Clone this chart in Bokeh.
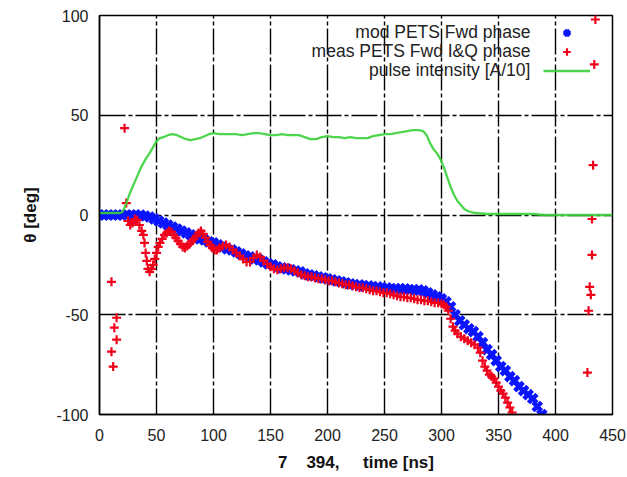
from bokeh.plotting import figure
from bokeh.models import Legend, LegendItem, Label, FixedTicker
from bokeh.core.properties import value
from bokeh.embed import file_html
from bokeh.resources import INLINE

# ---------------- data ----------------
x_ticks = [0, 50, 100, 150, 200, 250, 300, 350, 400, 450]
y_ticks = [-100, -50, 0, 50, 100]

# model: PETS forward phase [deg]
mod_t = [0, 4, 8, 12, 16, 20, 24, 28, 32, 36, 40, 44, 48, 52, 56, 60, 64, 68, 72, 76,
         80, 84, 88, 92, 96, 100, 104, 108, 112, 116, 120, 124, 128, 132, 136, 140, 144, 148, 152, 156,
         160, 164, 168, 172, 176, 180, 184, 188, 192, 196, 200, 204, 208, 212, 216, 220, 224, 228, 232, 236,
         240, 244, 248, 252, 256, 260, 264, 268, 272, 276, 280, 284, 288, 292, 296, 300, 304, 308, 312, 316,
         320, 324, 328, 332, 336, 340, 344, 348, 352, 356, 360, 364, 368, 372, 376, 380, 384, 388]
mod_phase = [0, 0, 0, 0, 0, 0, 0, 0, 0, 0, -0.5, -1, -2, -3, -4, -5, -6, -7, -8, -9,
             -10, -11, -12, -12.5, -13.5, -14, -15, -16, -17, -17.5, -18.5, -19.5, -20.5, -21, -22, -22.5, -23.5, -24.5, -25, -26,
             -26.5, -27, -27.5, -28, -28.5, -29.5, -30, -30.5, -31, -31.5, -32, -32.5, -33, -33.5, -34, -34.5, -35, -35, -35.5, -35.5,
             -36, -36, -36.5, -36.5, -37, -37, -37, -37, -37.5, -37.5, -37.5, -38, -39, -40, -41, -42, -43.5, -46, -50, -53,
             -55, -57, -58.5, -61, -64, -67.5, -70, -73, -76, -78, -81, -83, -86, -88, -90, -92, -96, -100]

# measurement: PETS forward I&Q phase [deg]
meas_t = [10.5, 15, 13, 15, 10.5, 12, 22, 23.5,
          25, 27, 29, 31, 33, 35, 37, 38.5, 39.5, 40.5, 41.5, 42.5, 44, 45.5, 47, 48.5, 50, 51.5, 53, 55, 57, 59,
          61, 63, 65, 67, 69, 71, 73, 75, 77, 79, 81, 83, 85, 87, 89, 91, 93, 95, 97, 99,
          101, 103, 105, 108, 111, 114, 117, 120, 123, 126, 129, 132, 135, 138, 141, 144, 147, 150, 153, 156,
          159, 162, 165, 168, 171, 174, 177, 180, 183, 186, 189, 192, 195, 198, 201, 204, 207, 210, 213, 216,
          219, 222, 225, 228, 231, 234, 237, 240, 243, 246, 249, 252, 255, 258, 261, 264, 267, 270, 273, 276,
          279, 282, 285, 288, 291, 294, 297, 300, 302, 304, 306, 308, 310, 312, 314, 317, 320, 323, 326, 329,
          332, 334, 336, 338, 340, 342, 344, 346, 348, 350, 352, 354, 356, 358, 360, 362,
          435, 434, 433, 432, 432, 430, 431, 429, 428]
meas_phase = [-33.5, -51.5, -56.5, -62.5, -68.5, -76, 43.5, 6,
              -3, -5, -4, -2, -2.5, -5, -8, -10, -14, -19, -23, -27, -28.5, -27, -25, -22, -19, -16, -14, -12, -10, -9,
              -8, -8.5, -10, -11.5, -13, -14.5, -16, -16.5, -15.5, -14.5, -13, -12, -10.5, -9, -8, -9.5, -11.5, -13.5, -15, -16.5,
              -17.5, -17.5, -16.5, -15.5, -15, -16, -17.5, -19, -20.5, -22, -23.5, -23.5, -21.5, -20, -21, -23, -24.5, -26, -27, -27.5,
              -27, -26.5, -26.5, -27, -28, -29, -30, -30.5, -31, -31, -31.5, -32, -32, -32.5, -33, -33, -33.5, -34, -34.5, -35,
              -35, -35.5, -36, -36.5, -36.5, -37, -37.5, -38, -38, -38.5, -39, -39, -39.5, -40, -40.5, -41, -41, -41.5, -41.5, -42,
              -42.5, -42.5, -43, -43, -43.5, -44, -44, -44.5, -45, -46, -48, -52, -56, -58, -59.5, -61, -62, -63, -64, -65,
              -66.5, -69, -73, -76, -78, -80, -81, -82, -84, -86, -88, -89.5, -91.5, -94, -96.5, -99,
              98, 75.5, 25, -2, -20, -36, -40, -48, -79]

# pulse intensity [A/10]
pulse_t = [0, 5, 10, 15, 18, 20, 23, 26, 29, 32, 35, 38, 41, 44, 47, 50, 53, 56, 60, 64,
           68, 72, 76, 80, 84, 88, 92, 96, 100, 105, 110, 115, 120, 125, 130, 135, 140, 145, 150, 155,
           160, 165, 170, 175, 180, 185, 190, 195, 200, 205, 210, 215, 220, 225, 230, 235, 240, 245, 250, 255,
           260, 265, 270, 275, 280, 284, 287, 290, 293, 296, 299, 302, 305, 308, 311, 314, 317, 320, 323, 326,
           330, 340, 350, 360, 370, 380, 390, 400, 410, 420, 430, 440, 450]
pulse_int = [1, 1, 1, 1, 1, 1.5, 5, 10, 14, 18, 22, 25.5, 28.5, 31, 34, 37, 38.5, 39, 40, 40.5,
             40, 39, 38, 37.5, 38, 38.5, 39.5, 40.5, 41, 40.5, 40.5, 40.5, 40.5, 40, 40.5, 41, 41, 40.5, 40, 40,
             40.5, 40, 40, 40, 39, 38, 38, 39, 39.5, 39, 39, 38.5, 39, 38.5, 38.5, 38.5, 39.5, 40, 40.5, 40.5,
             41, 41.5, 42, 42.5, 42.5, 42, 40, 36, 33, 31, 28, 24, 19, 14, 10, 7, 5, 3, 2, 1.5,
             1, 0.5, 0.5, 0.5, 0.5, 0.5, 0, 0, 0, 0, 0, 0, 0]

series_labels = ["mod PETS Fwd phase", "meas PETS Fwd I&Q phase", "pulse intensity [A/10]"]
x_label = "7\u00a0\u00a0\u00a0\u00a0394,\u00a0\u00a0\u00a0\u00a0\u00a0time [ns]"
y_label = "\u03b8 [deg]"

FONT = "Liberation Sans"
BLUE = "#0a14ff"
RED = "#f0001a"
GREEN = "#3ad23a"

p = figure(width=627, height=477, output_backend="svg", toolbar_location=None,
           x_range=(0, 450), y_range=(-100, 100),
           min_border_left=99, min_border_right=15, min_border_top=15, min_border_bottom=63)
p.background_fill_color = "white"
p.border_fill_color = "white"
p.outline_line_color = "black"
p.outline_line_width = 1.5

p.xaxis.ticker = FixedTicker(ticks=x_ticks)
p.yaxis.ticker = FixedTicker(ticks=y_ticks)
p.yaxis.major_label_overrides = {t: str(t) for t in y_ticks}
p.xaxis.axis_label = x_label
p.yaxis.axis_label = y_label
for ax in (p.xaxis[0], p.yaxis[0]):
    ax.major_label_text_font = FONT
    ax.major_label_text_font_size = "16px"
    ax.major_label_text_color = "#222222"
    ax.axis_label_text_font = FONT
    ax.axis_label_text_font_size = "17px"
    ax.axis_label_text_font_style = "bold"
    ax.axis_label_text_color = "#111111"
    ax.major_tick_in = 0
    ax.major_tick_out = 0
    ax.minor_tick_in = 0
    ax.minor_tick_out = 0
    ax.axis_line_color = "black"
    ax.axis_line_width = 1.5
p.xaxis.major_label_standoff = 14
p.xaxis.axis_label_standoff = 9
p.yaxis.major_label_standoff = 11
p.yaxis.axis_label_standoff = 13

p.grid.grid_line_color = "black"
p.grid.grid_line_width = 1.4
p.grid.grid_line_dash = "26 3 4 3"

rb = p.scatter(mod_t, mod_phase, marker="x", size=12, line_color=BLUE, line_width=4.5)
rr = p.scatter(meas_t, meas_phase, marker="cross", size=9, line_color=RED, line_width=2.2)
rg = p.line(pulse_t, pulse_int, line_color=GREEN, line_width=2.3, line_alpha=0.9)

legend = Legend(items=[LegendItem(label=value(" "), renderers=[rb]),
                       LegendItem(label=value(" "), renderers=[rr]),
                       LegendItem(label=value(" "), renderers=[rg])],
                location="top_right", margin=0, padding=8, label_standoff=0, label_width=14,
                glyph_width=47, glyph_height=19, label_height=19, spacing=0,
                background_fill_alpha=0, border_line_alpha=0, label_text_font_size="10px")
p.add_layout(legend)

for lbl, ly in zip(series_labels, [91.5, 82, 72.5]):
    p.add_layout(Label(x=378, y=ly, text=lbl, text_align="right", text_baseline="middle",
                       text_font=FONT, text_font_size="17.5px", text_color="#222222"))

open("out.html", "w").write(file_html(p, INLINE))
